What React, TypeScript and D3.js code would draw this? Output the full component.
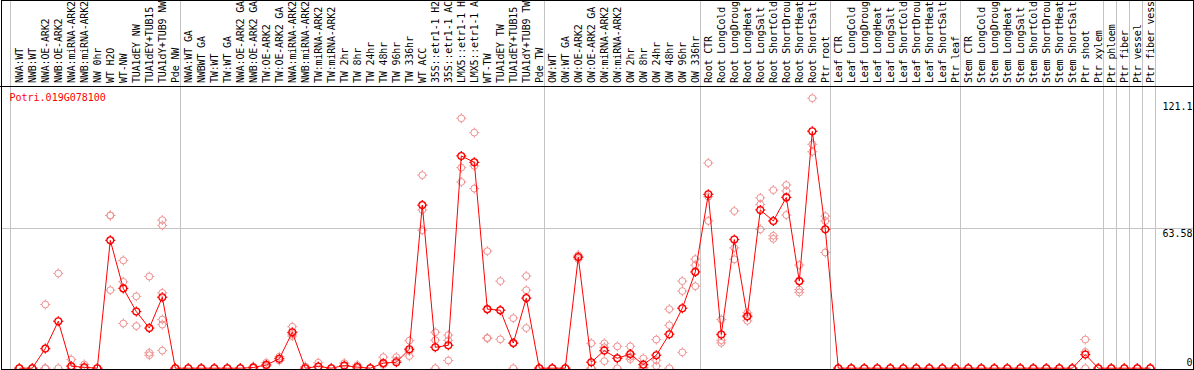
import React from "react";
import * as d3 from "d3";

const categories: string[] = [
  "NWA:WT", "NWB:WT", "NWA:OE-ARK2", "NWB:OE-ARK2", "NWA:miRNA-ARK2", "NWB:miRNA-ARK2",
  "NW 0hr", "WT H2O", "WT-NW", "TUA1dEY NW", "TUA1dEY+TUB15", "TUA1dY+TUB9 NW", "Pde NW",
  "NWA:WT GA", "NWBWT GA", "TW:WT", "TW:WT GA", "NWA:OE-ARK2 GA", "NWB:OE-ARK2 GA",
  "TW:OE-ARK2", "TW:OE-ARK2 GA", "NWA:miRNA-ARK2", "NWB:miRNA-ARK2", "TW:miRNA-ARK2",
  "TW:miRNA-ARK2", "TW 2hr", "TW 8hr", "TW 24hr", "TW 48hr", "TW 96hr", "TW 336hr",
  "WT ACC", "35S::etr1-1 H2", "35S::etr1-1 AC", "LMX5::etr1-1 H", "LMX5::etr1-1 A",
  "WT-TW", "TUA1dEY TW", "TUA1dEY+TUB15", "TUA1dY+TUB9 TW", "Pde TW",
  "OW:WT", "OW:WT GA", "OW:OE-ARK2", "OW:OE-ARK2 GA", "OW:miRNA-ARK2", "OW:miRNA-ARK2",
  "OW 2hr", "OW 8hr", "OW 24hr", "OW 48hr", "OW 96hr", "OW 336hr",
  "Root CTR", "Root LongCold", "Root LongDroug", "Root LongHeat", "Root LongSalt",
  "Root ShortCold", "Root ShortDrou", "Root ShortHeat", "Root ShortSalt", "Ptr root",
  "Leaf CTR", "Leaf LongCold", "Leaf LongDroug", "Leaf LongHeat", "Leaf LongSalt",
  "Leaf ShortCold", "Leaf ShortDrou", "Leaf ShortHeat", "Leaf ShortSalt", "Ptr leaf",
  "Stem CTR", "Stem LongCold", "Stem LongDroug", "Stem LongHeat", "Stem LongSalt",
  "Stem ShortCold", "Stem ShortDrou", "Stem ShortHeat", "Stem ShortSalt", "Ptr shoot",
  "Ptr xylem", "Ptr phloem", "Ptr fiber", "Ptr vessel", "Ptr fiber vess",
];

const meanValues: number[] = [
  0, 0, 8.9, 21.3, 0.9, 0.4, 0, 58.0, 36.2, 25.7, 18.2, 32.2, 0,
  0, 0, 0, 0, 0, 0.3, 1.5, 4.3, 16.3, 0, 0.8, 0, 1.2, 0.5, 0, 2.3, 2.7, 8.6,
  74.0, 9.5, 10.4, 96.3, 93.4, 26.8, 26.3, 11.4, 31.8, 0,
  0, 0, 50.4, 2.7, 8.0, 4.5, 6.4, 1.6, 5.9, 15.4, 27.2, 43.7,
  78.9, 15.3, 58.4, 23.6, 71.8, 66.8, 77.5, 39.5, 107.5, 63.0,
  0, 0, 0, 0, 0, 0, 0, 0, 0, 0,
  0, 0, 0, 0, 0, 0, 0, 0, 0, 6.2,
  0, 0, 0, 0, 0,
];

const replicateValues: number[][] = [
  [0, 0], [0, 0], [28.9, 0, 0], [43.0, 0], [3.9, 0.9, 0], [1.7, 0], [0, 0],
  [69.3, 35.4, 69.3], [48.9, 39.2, 20.3], [32.6, 19.1], [41.6, 7.0, 5.9],
  [67.2, 64.8, 34.2, 22.1, 19.8, 8.0], [0, 0],
  [0, 0], [0, 0], [0, 0], [0, 0], [0, 0], [0.8, 0], [2.5, 0.8], [5.2, 3.5],
  [18.8, 15.5, 14.6], [0.8, 0], [2.5, 0.5], [0, 0], [2.3, 0.8], [1.4, 0], [0, 0],
  [5.0, 1.5], [5.0, 3.5], [12.5, 5.5, 7.8], [87.6, 62.6, 71.8], [16.3, 12.7, 0],
  [15.0, 12.6, 3.5], [113.4, 91.0, 84.5], [106.9, 91.8, 81.5], [53.1, 13.6, 13.7],
  [39.5, 26.3, 13.1], [22.7, 11.4, 0], [41.8, 35.4, 18.2], [0, 0],
  [0, 0], [0, 0], [50.4, 49.5, 51.3], [11.3, 0, 0], [11.3, 9.5, 3.2], [9.9, 4.5, 0],
  [9.9, 4.1, 5.2], [4.5, 0, 0.3], [13.0, 3.6, 1.0], [26.8, 19.5, 0], [39.5, 35.0, 7.2],
  [49.5, 46.8, 37.2],
  [93.1, 77.8, 66.8], [22.1, 12.7, 11.5], [71.3, 54.6, 49.4], [25.1, 23.3, 21.5],
  [77.3, 74.3, 63.0], [80.8, 60.1, 58.7], [83.1, 80.4, 69.5], [46.8, 35.7, 34.4],
  [122.5, 101.6, 98.2], [69.0, 66.8, 52.5],
  [0, 0], [0, 0], [0, 0], [0, 0], [0, 0], [0, 0], [0, 0], [0, 0], [0, 0], [0, 0],
  [0, 0], [0, 0], [0, 0], [0, 0], [0, 0], [0, 0], [0, 0], [0, 0], [0, 0], [13.0, 7.4, 0],
  [0, 0], [0, 0], [0, 0], [0, 0], [0, 0],
];

const groupEnds: number[] = [12, 40, 52, 62, 72, 83, 84, 85, 86, 87];
const yTicks: number[] = [0, 63.58, 121.1];
const yTickLabels: string[] = ["0", "63.58", "121.1"];
const geneId = "Potri.019G078100";

const W = 1194;
const H = 370;
const FONT = "'DejaVu Sans Mono', 'Liberation Mono', monospace";
const RED = "#ff0000";
const PINK = "#ef8f8f";
const GRID = "#c4c4c4";

function Marker({ x, y, color, sw }: { x: number; y: number; color: string; sw: number }) {
  const r = 3.4;
  const t = 1.6;
  return (
    <g transform={`translate(${x},${y})`} stroke={color} strokeWidth={sw} fill="none">
      <circle r={r} />
      <line x1={0} y1={-r} x2={0} y2={-r - t} />
      <line x1={0} y1={r} x2={0} y2={r + t} />
      <line x1={-r} y1={0} x2={-r - t} y2={0} />
      <line x1={r} y1={0} x2={r + t} y2={0} />
    </g>
  );
}

export default function App() {
  const idx = d3.range(categories.length);
  const x = d3.scalePoint<number>().domain(idx).range([19.3, 1150.3]);
  const y = d3.scaleLinear().domain([0, 121.1]).range([368.2, 101.3]);
  const px = (i: number) => x(i) as number;

  const line = d3
    .line<number>()
    .x((_, i) => px(i))
    .y((d) => y(d));

  const crisp = (v: number) => Math.floor(v) + 0.5;
  const vLines = [crisp(px(0) - 9), ...groupEnds.map((g) => crisp(px(g) + 5))];

  return (
    <svg
      width={W}
      height={H}
      style={{ position: "absolute", left: 0, top: 0, background: "#fff" }}
      fontFamily={FONT}
    >
      <rect x={0} y={0} width={W} height={H} fill="#fff" />
      {vLines.map((vx, i) => (
        <line key={"v" + i} x1={vx} x2={vx} y1={0} y2={369} stroke={GRID} strokeWidth={1} />
      ))}
      <line x1={1} x2={1193} y1={crisp(y(63.58))} y2={crisp(y(63.58))} stroke={GRID} strokeWidth={1} />

      {categories.map((c, i) => (
        <text
          key={"c" + i}
          transform={`translate(${px(i) + 3.8},83) rotate(-90)`}
          fontSize={10}
          letterSpacing={-0.17}
          fill="#000"
        >
          {c}
        </text>
      ))}

      <text x={9.5} y={100.5} fontSize={10} fill={RED}>
        {geneId}
      </text>

      {yTicks.map((t, i) => (
        <text
          key={"t" + i}
          x={1192.5}
          y={t === 0 ? 365.5 : y(t) + 8.5}
          textAnchor="end"
          fontSize={10}
          fill="#000"
        >
          {yTickLabels[i]}
        </text>
      ))}

      {replicateValues.map((reps, i) =>
        reps.map((v, j) => <Marker key={`r${i}-${j}`} x={px(i)} y={y(v)} color={PINK} sw={1} />)
      )}

      <path d={line(meanValues) || ""} fill="none" stroke={RED} strokeWidth={1} />
      {meanValues.map((v, i) => (
        <Marker key={"m" + i} x={px(i)} y={y(v)} color={RED} sw={1.3} />
      ))}

      <line x1={0} x2={W} y1={86.5} y2={86.5} stroke="#000" strokeWidth={1} />
      <rect x={1.5} y={0.5} width={1192} height={369} fill="none" stroke="#000" strokeWidth={1} />
    </svg>
  );
}
